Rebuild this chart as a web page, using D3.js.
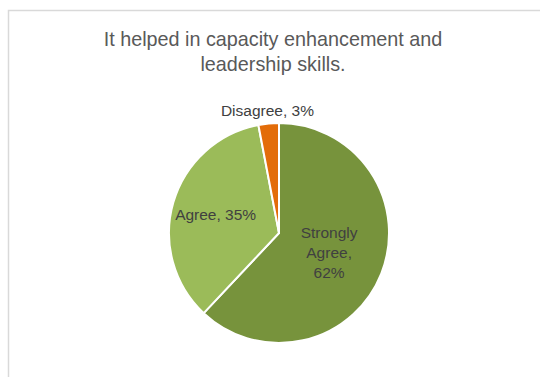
<!DOCTYPE html>
<html><head><meta charset="utf-8">
<script src="https://cdn.jsdelivr.net/npm/d3@7"></script>
<style>
html,body{margin:0;padding:0;background:#fff;overflow:hidden;}
svg{display:block;}
</style></head>
<body>
<svg id="chart" width="540" height="377"></svg>
<script>
const categories = ["Strongly Agree", "Agree", "Disagree"];
const values = [62, 35, 3];
const labelLines = [["Strongly", "Agree,", "62%"], ["Agree, 35%"], ["Disagree, 3%"]];
const titleLines = ["It helped in capacity enhancement and", "leadership skills."];

const colors = d3.scaleOrdinal().domain(categories).range(["#77933C", "#9BBB59", "#E36C09"]);
const svg = d3.select("#chart");

// chart frame (extends beyond viewport on right/bottom)
svg.append("rect").attr("x", 8.5).attr("y", 10.5).attr("width", 560).attr("height", 400)
  .attr("fill", "#fff").attr("stroke", "#d9d9d9").attr("stroke-width", 1.5);

const font = "'Liberation Sans', Arial, sans-serif";
svg.append("g").selectAll("text").data(titleLines).join("text")
  .attr("x", 273).attr("y", (d, i) => 46 + i * 25)
  .attr("text-anchor", "middle").attr("fill", "#595959")
  .style("font-family", font).style("font-size", "19.8px")
  .text(d => d);

const cx = 279, cy = 233, r = 110;
const pie = d3.pie().sort(null).value(d => d.v);
const arcs = pie(categories.map((c, i) => ({c, v: values[i], lines: labelLines[i]})));
const arc = d3.arc().innerRadius(0).outerRadius(r);
const g = svg.append("g").attr("transform", `translate(${cx},${cy})`);
g.selectAll("path").data(arcs).join("path")
  .attr("d", arc).attr("fill", d => colors(d.data.c))
  .attr("stroke", "#fff").attr("stroke-width", 2).attr("stroke-linejoin", "round");

const labelR = [0.49, 0.6, 1.12];
const lineH = 20;
arcs.forEach((d, i) => {
  const a = (d.startAngle + d.endAngle) / 2;
  const rr = labelR[i] * r;
  const x = Math.sin(a) * rr, y = -Math.cos(a) * rr;
  const n = d.data.lines.length;
  g.append("text").attr("text-anchor", "middle").attr("fill", "#404040")
    .style("font-family", font).style("font-size", "15.5px")
    .selectAll("tspan").data(d.data.lines).join("tspan")
    .attr("x", x).attr("y", (t, j) => y + (j - (n - 1) / 2) * lineH + 5.5)
    .text(t => t);
});
</script>
</body></html>
